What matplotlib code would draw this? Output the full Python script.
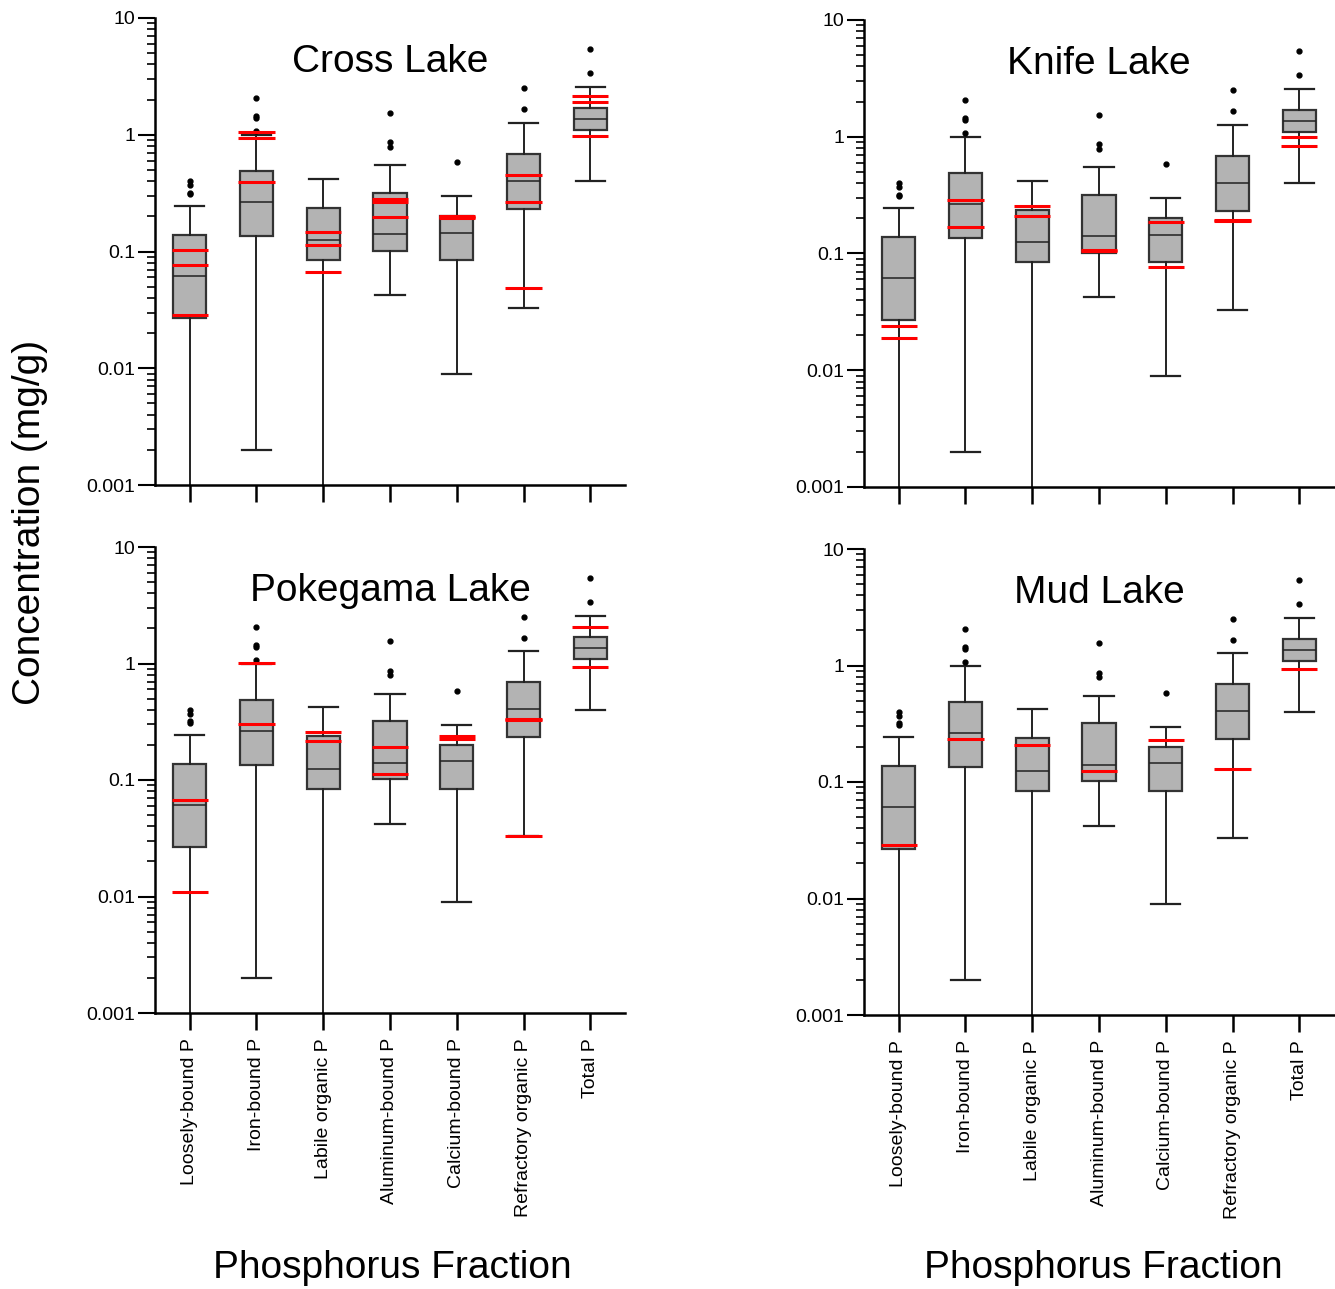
import numpy as np
import matplotlib
matplotlib.use('Agg')
import matplotlib.pyplot as plt
from matplotlib.ticker import LogLocator, FixedLocator, FuncFormatter

plt.rcParams['font.family'] = ['Liberation Sans', 'DejaVu Sans']

#fraction names
fractions = ['Loosely-bound P', 'Iron-bound P', 'Labile organic P', 'Aluminum-bound P',
             'Calcium-bound P', 'Refractory organic P', 'Total P']

#reference distribution (same in every panel)
whis_lo = [0.0004, 0.0020, 0.0004, 0.042, 0.0090, 0.033, 0.40]
q1 = [0.0267, 0.135, 0.084, 0.101, 0.084, 0.232, 1.09]
med = [0.0615, 0.266, 0.125, 0.141, 0.1445, 0.403, 1.36]
q3 = [0.138, 0.487, 0.238, 0.320, 0.1995, 0.690, 1.70]
whis_hi = [0.243, 1.0, 0.421, 0.548, 0.296, 1.27, 2.55]
outliers = [[0.40, 0.37, 0.32, 0.31],
            [2.07, 1.45, 1.38, 1.07],
            [],
            [1.55, 0.86, 0.79],
            [0.58],
            [2.52, 1.66],
            [5.39, 3.40]]

#lake values (red lines), one list per fraction
lakes = ['Cross Lake', 'Knife Lake', 'Pokegama Lake', 'Mud Lake']
cross = [[0.103, 0.0759, 0.0287], [1.06, 0.946, 0.392], [0.1456, 0.1148, 0.067],
         [0.284, 0.266, 0.198], [0.203, 0.197, 0.195], [0.456, 0.266, 0.0489],
         [2.15, 1.92, 0.977]]
knife = [[0.0240, 0.0190], [0.290, 0.169], [0.256, 0.209], [0.108, 0.105],
         [0.185, 0.0764], [0.195, 0.190], [0.997, 0.830]]
pokegama = [[0.0675, 0.01094], [1.01, 0.301], [0.258, 0.217], [0.191, 0.112],
            [0.237, 0.223], [0.333, 0.330, 0.033], [2.04, 0.927]]
mud = [[0.0287], [0.232], [0.206], [0.1233], [0.2275], [0.130], [0.939]]
lake_vals = [cross, knife, pokegama, mud]

#axes rectangles in pixels (left, top, bottom)
W, H = 1335, 1289
rects = [(155, 18, 485), (864, 20, 487), (155, 547, 1013), (864, 549, 1015)]

fig = plt.figure(figsize=(W/100, H/100), dpi=100)

stats = []
for i in range(7):
    stats.append(dict(med=med[i], q1=q1[i], q3=q3[i], whislo=whis_lo[i],
                      whishi=whis_hi[i], fliers=outliers[i]))

pos = np.arange(1, 8)

for k in range(4):
    x0, yt, yb = rects[k]
    ax = fig.add_axes([x0/W, 1-yb/H, 470/W, (yb-yt)/H])
    ax.bxp(stats, positions=pos, widths=0.5, patch_artist=True,
           boxprops=dict(facecolor='#b3b3b3', edgecolor='#333333', linewidth=1.6),
           medianprops=dict(color='#222222', linewidth=1.1),
           whiskerprops=dict(color='#222222', linewidth=1.4),
           capprops=dict(color='#222222', linewidth=1.6),
           flierprops=dict(marker='o', markerfacecolor='black', markeredgecolor='black',
                           markersize=3.5, linestyle='none'),
           capwidths=0.44)
    for i in range(7):
        vals = lake_vals[k][i]
        ax.hlines(vals, pos[i]-0.27, pos[i]+0.27, color='red', linewidth=2.2, zorder=5)

    ax.set_yscale('log')
    ax.set_ylim(0.001, 10)
    ax.set_xlim(0.48, 7.52)
    ax.yaxis.set_major_locator(FixedLocator([0.001, 0.01, 0.1, 1, 10]))
    ax.yaxis.set_major_formatter(FuncFormatter(lambda v, p: '%g' % v))
    ax.yaxis.set_minor_locator(LogLocator(base=10, subs=np.arange(2, 10)))
    ax.yaxis.set_minor_formatter(FuncFormatter(lambda v, p: ''))
    ax.tick_params(axis='y', which='major', length=12, width=1.5, labelsize=14, pad=2)
    ax.tick_params(axis='y', which='minor', length=6, width=1.2)
    ax.set_xticks(pos)
    ax.tick_params(axis='x', which='major', length=12, width=1.8, pad=6)
    if k >= 2:
        ax.set_xticklabels(fractions, rotation=90, fontsize=14)
    else:
        ax.set_xticklabels([])
    for s in ['top', 'right']:
        ax.spines[s].set_visible(False)
    ax.spines['left'].set_linewidth(1.8)
    ax.spines['bottom'].set_linewidth(1.8)
    ax.text(0.5, 0.905, lakes[k], transform=ax.transAxes, ha='center', va='center', fontsize=28)

fig.text(30/W, 1-522/H, 'Concentration (mg/g)', rotation=90, ha='center', va='center', fontsize=28)
fig.text(392/W, 1-1268/H, 'Phosphorus Fraction', ha='center', va='center', fontsize=28)
fig.text(1103/W, 1-1268/H, 'Phosphorus Fraction', ha='center', va='center', fontsize=28)

fig.savefig('out.png', dpi=100)
